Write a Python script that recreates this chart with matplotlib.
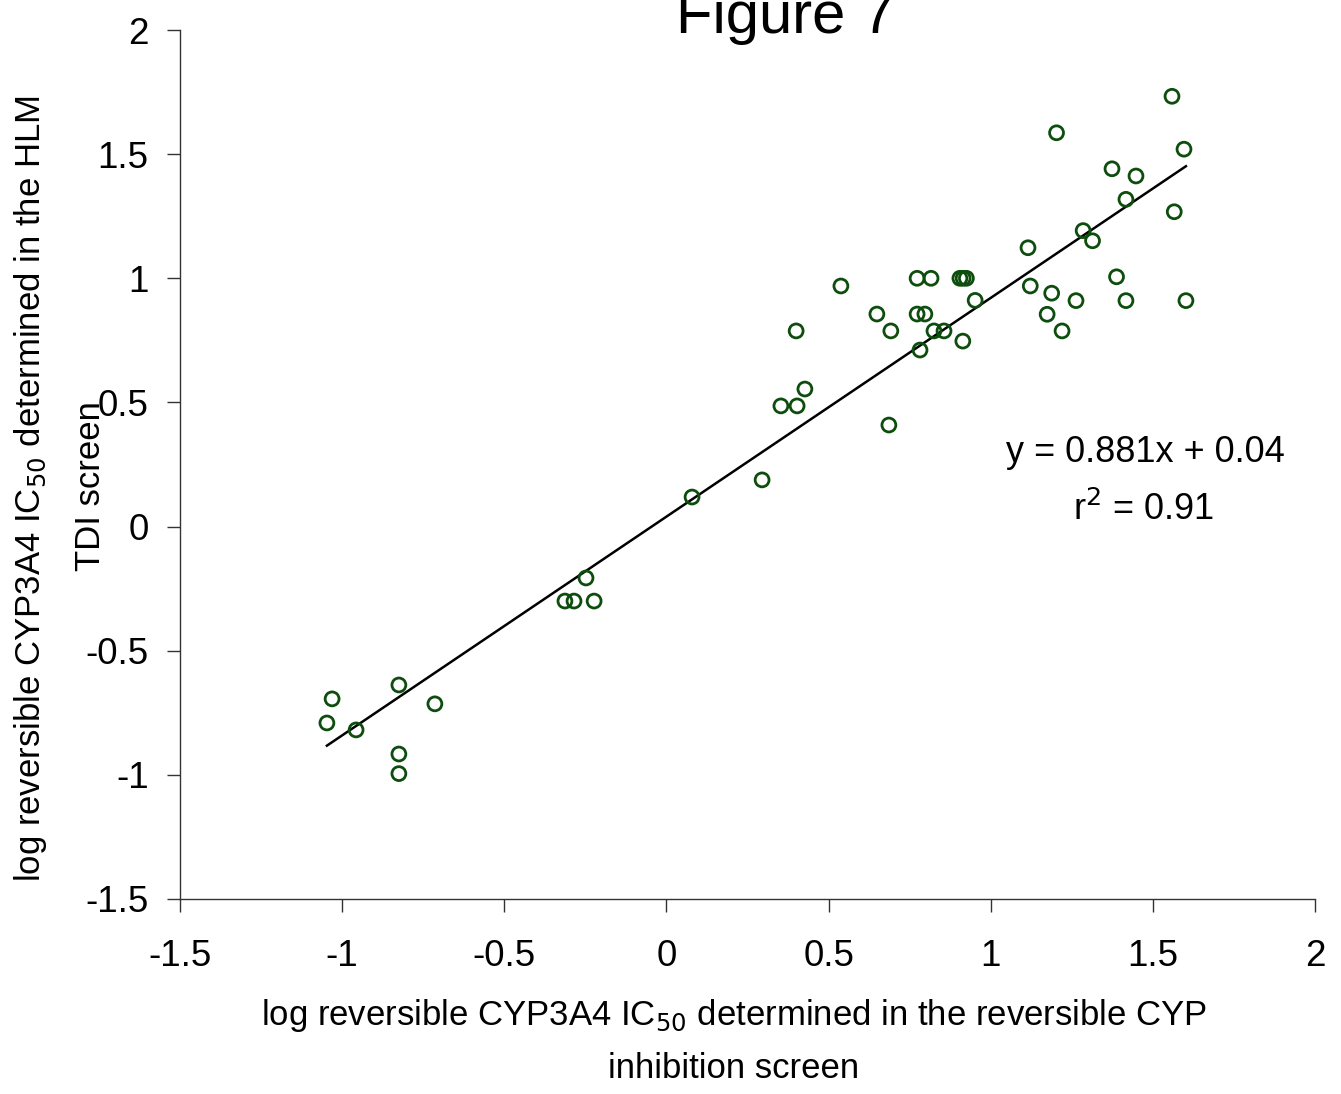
import matplotlib
matplotlib.use("Agg")
import matplotlib.pyplot as plt
import numpy as np

plt.rcParams['font.family'] = ['Liberation Sans', 'DejaVu Sans']

# Data
x_vals = [-1.047, -1.031, -0.957, -0.825, -0.825, -0.825, -0.714,
          -0.313, -0.285, -0.248, -0.223, 0.079, 0.295,
          0.353, 0.403, 0.427, 0.400, 0.538, 0.649, 0.692, 0.686,
          0.773, 0.816, 0.773, 0.797, 0.782, 0.825, 0.856,
          0.905, 0.915, 0.925, 0.914, 0.952,
          1.559, 1.203, 1.596, 1.374, 1.448, 1.417, 1.566, 1.285, 1.314,
          1.115, 1.122, 1.388, 1.188, 1.263, 1.417, 1.602, 1.174, 1.220]
y_vals = [-0.791, -0.694, -0.819, -0.638, -0.916, -0.995, -0.714,
          -0.300, -0.300, -0.207, -0.300, 0.119, 0.188,
          0.486, 0.486, 0.554, 0.788, 0.969, 0.856, 0.788, 0.409,
          1.000, 1.000, 0.856, 0.856, 0.711, 0.788, 0.788,
          1.000, 1.000, 1.000, 0.747, 0.911,
          1.733, 1.586, 1.520, 1.441, 1.412, 1.318, 1.268, 1.192, 1.151,
          1.123, 0.969, 1.006, 0.940, 0.910, 0.910, 0.910, 0.855, 0.788]
slope = 0.881
intercept = 0.04
eq_text = "y = 0.881x + 0.04"
r2_text = "r$^2$ = 0.91"
x_ticks = [-1.5, -1, -0.5, 0, 0.5, 1, 1.5, 2]
x_ticklabels = ["-1.5", "-1", "-0.5", "0", "0.5", "1", "1.5", "2"]
y_ticks = [-1.5, -1, -0.5, 0, 0.5, 1, 1.5, 2]
y_ticklabels = ["-1.5", "-1", "-0.5", "0", "0.5", "1", "1.5", "2"]

fig = plt.figure(figsize=(13.41, 10.94), dpi=100)
ax = fig.add_axes([180/1341, 1-899/1094, (1315-180)/1341, (899-30)/1094])

ax.scatter(x_vals, y_vals, s=100, facecolors='none', edgecolors='#0d4d0d',
           linewidths=2.0, zorder=3)

lx = np.array([min(x_vals), max(x_vals)])
ax.plot(lx, slope*lx + intercept, color='black', lw=1.8, zorder=2)

ax.set_xlim(-1.5, 2)
ax.set_ylim(-1.5, 2)
ax.set_xticks(x_ticks)
ax.set_xticklabels(x_ticklabels)
ax.set_yticks(y_ticks)
ax.set_yticklabels(y_ticklabels)
ax.tick_params(direction='out', length=9.5, width=1, labelsize=26.5, color='#333333')
ax.tick_params(axis='x', pad=19)
ax.tick_params(axis='y', pad=13)
for s in ['top', 'right']:
    ax.spines[s].set_visible(False)
for s in ['left', 'bottom']:
    ax.spines[s].set_linewidth(1)
    ax.spines[s].set_color('#333333')

ax.text(1.476, 0.260, eq_text, fontsize=26, ha='center', va='baseline')
ax.text(1.473, 0.027, r2_text, fontsize=26, ha='center', va='baseline')

fig.text(786/1341, 1-33/1094, "Figure 7", fontsize=43, ha='center', va='baseline')

fig.text(734/1341, 1-1025/1094,
         "log reversible CYP3A4 IC$_{50}$ determined in the reversible CYP",
         fontsize=25, ha='center', va='baseline')
fig.text(734/1341, 1-1078/1094, "inhibition screen",
         fontsize=25, ha='center', va='baseline')

fig.text(31/1341, 1-489/1094,
         "log reversible CYP3A4 IC$_{50}$ determined in the HLM",
         fontsize=25, ha='center', va='center', rotation=90)
fig.text(90/1341, 1-486/1094, "TDI screen",
         fontsize=25, ha='center', va='center', rotation=90)

fig.savefig("out.png", dpi=100)
